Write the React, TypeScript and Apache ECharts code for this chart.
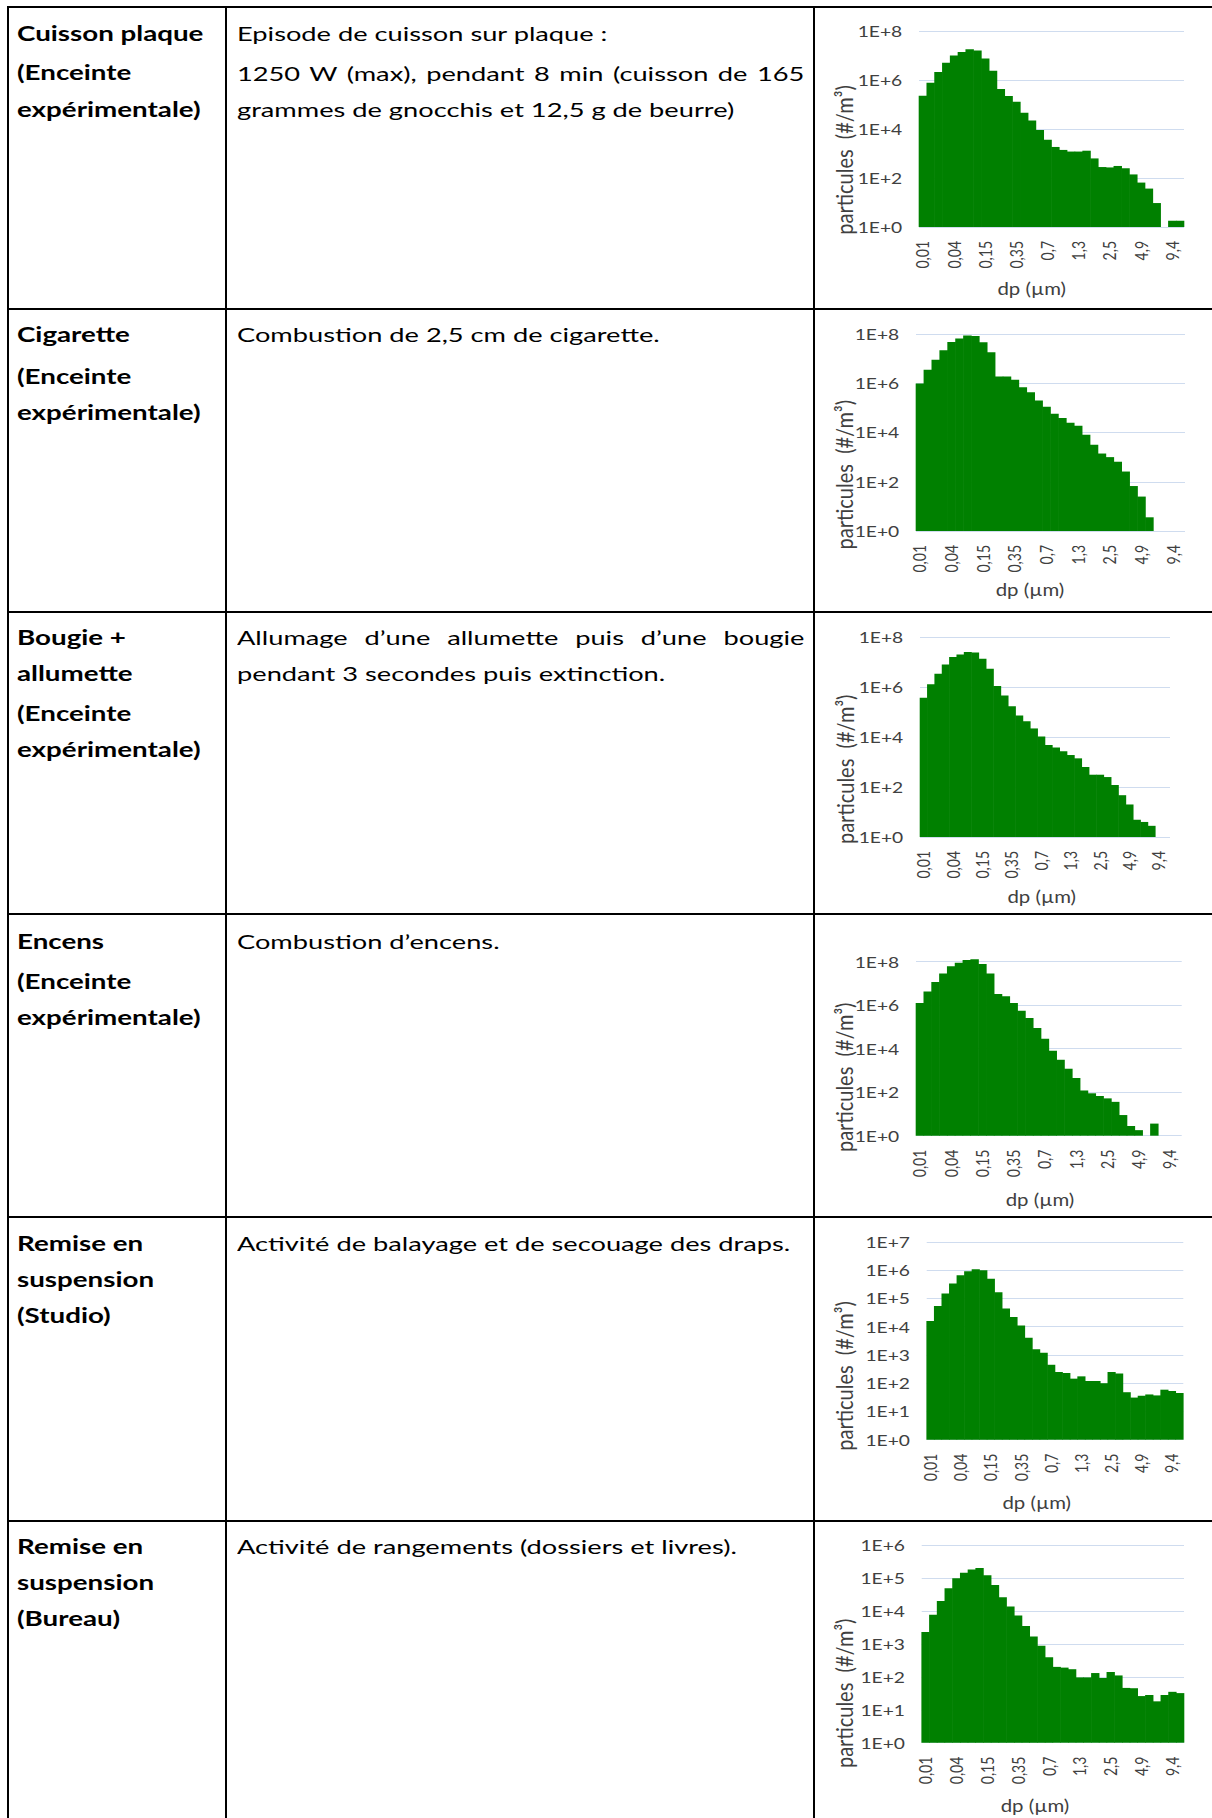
import React, { useEffect, useRef, useMemo } from 'react';
import * as echarts from 'echarts';

// ---------- data ----------
const dpCategories = ['0,01', '0,014', '0,02', '0,028', '0,04', '0,056', '0,075', '0,1', '0,15', '0,2', '0,25', '0,3', '0,35', '0,4', '0,5', '0,6', '0,7', '0,8', '0,9', '1,1', '1,3', '1,6', '1,8', '2,1', '2,5', '2,9', '3,5', '4,1', '4,9', '5,7', '6,8', '8', '9,4', '11'];

const cuissonPlaque = [2.3e5, 7.8e5, 2.1e6, 5.1e6, 1.0e7, 1.4e7, 1.8e7, 1.6e7, 7.6e6, 2.4e6, 4.3e5, 2.2e5, 1.3e5, 4.6e4, 2.2e4, 9.1e3, 3.6e3, 1.85e3, 1.4e3, 1.2e3, 1.2e3, 1.3e3, 630, 280, 270, 310, 250, 140, 65, 37, 9.5, null, 1.8, 1.8];
const cigarette = [9.7e5, 3.5e6, 9.1e6, 2.2e7, 4.7e7, 6.5e7, 8.6e7, 8.3e7, 4.6e7, 1.8e7, 1.9e6, 1.9e6, 1.4e6, 6.9e5, 4.3e5, 2.0e5, 1.1e5, 5.8e4, 3.9e4, 2.5e4, 1.9e4, 8.1e3, 3.2e3, 1.4e3, 1.0e3, 650, 260, 67, 25, 3.6, null, null, null, null];
const bougieAllumette = [3.7e5, 1.3e6, 3.4e6, 8.0e6, 1.6e7, 2.0e7, 2.5e7, 2.4e7, 1.35e7, 5.4e6, 1.1e6, 4.6e5, 1.7e5, 7.2e4, 4.3e4, 2.2e4, 1.05e4, 4.8e3, 3.8e3, 2.7e3, 1.9e3, 1.4e3, 630, 310, 310, 250, 120, 47, 20, 4.9, 4.0, 2.8, null, null];
const encens = [1.26e6, 4.3e6, 1.17e7, 2.9e7, 6.1e7, 8.9e7, 1.2e8, 1.3e8, 7.8e7, 2.9e7, 3.3e6, 2.6e6, 1.26e6, 5.6e5, 2.6e5, 8.9e4, 2.9e4, 8.1e3, 3.1e3, 1.2e3, 450, 120, 89, 67, 52, 36, 8.9, 2.8, 1.8, null, 3.6, null, null, null];
const remiseStudio = [1.6e4, 5.4e4, 1.5e5, 3.4e5, 6.6e5, 9.2e5, 1.08e6, 1.0e6, 5.0e5, 1.65e5, 4.4e4, 2.2e4, 1.1e4, 4.1e3, 1.6e3, 1.2e3, 450, 250, 230, 145, 175, 120, 120, 100, 250, 220, 48, 31, 36, 40, 37, 59, 53, 45];
const remiseBureau = [2.3e3, 7.7e3, 2.0e4, 4.9e4, 9.8e4, 1.45e5, 1.8e5, 2.0e5, 1.2e5, 6.1e4, 2.6e4, 1.35e4, 7.2e3, 3.5e3, 1.66e3, 880, 390, 200, 190, 170, 96, 96, 130, 92, 140, 110, 46, 45, 26, 28, 18, 28, 35, 32];

const yAxisMax = [1e8, 1e8, 1e8, 1e8, 1e7, 1e6];
const yAxisLogBase = [100, 100, 100, 100, 10, 10];
const yTitle = 'particules  (#/m³)';
const xTitle = 'dp (µm)';

const rowLabels = [
  ['Cuisson plaque', '(Enceinte', 'expérimentale)'],
  ['Cigarette', '(Enceinte', 'expérimentale)'],
  ['Bougie +', 'allumette', '(Enceinte', 'expérimentale)'],
  ['Encens', '(Enceinte', 'expérimentale)'],
  ['Remise en', 'suspension', '(Studio)'],
  ['Remise en', 'suspension', '(Bureau)'],
];
const rowDescriptions = [
  ['Episode de cuisson sur plaque :', '1250 W (max), pendant 8 min (cuisson de 165', 'grammes de gnocchis et 12,5 g de beurre)'],
  ['Combustion de 2,5 cm de cigarette.'],
  ['Allumage d’une allumette puis d’une bougie', 'pendant 3 secondes puis extinction.'],
  ['Combustion d’encens.'],
  ['Activité de balayage et de secouage des draps.'],
  ['Activité de rangements (dossiers et livres).'],
];
const seriesList = [cuissonPlaque, cigarette, bougieAllumette, encens, remiseStudio, remiseBureau];

// ---------- layout ----------
const PAGE_W = 1212;
const PAGE_H = 1818;
const ROW_LINES = [6, 308, 611, 913, 1216, 1520];
const COL_LINES = [7, 225, 813];
const LABEL_Y = [
  [32.5, 72, 109],
  [334, 376, 412],
  [637, 673, 713, 749],
  [941, 981, 1017],
  [1243, 1279, 1315],
  [1546, 1582, 1618],
];
const DESC_Y = [
  [32.5, 73, 109],
  [334],
  [637, 673],
  [941],
  [1243],
  [1546],
];
const JUSTIFIED = [[false, true, false], [false], [true, false], [false], [false], [false]];
const COL1_X = 17;
const COL2_X = 236.6;
const JUSTIFY_W = 567.4;
const TEXT_FONT = 20;

const KC = 1.2; // horizontal stretch of the charts
const CHART_X = 815;
const CHART_W = (PAGE_W - CHART_X) / KC;
const CHART_TOPS = [8, 310, 613, 915, 1218, 1522];
const CHART_HS = [300, 301, 300, 301, 302, 296];
// full-resolution plot rectangles [left, right, top, bottom]
const PLOTS = [
  [919, 1184, 31, 227],
  [916, 1185, 334, 531],
  [920, 1170, 637, 837],
  [916, 1181.7, 961.7, 1135.7],
  [926.7, 1183.3, 1242, 1439.7],
  [921.7, 1184, 1545, 1742.7],
];
const YTITLE_POS = [[843.5, 160], [843.5, 474.7], [845, 769.3], [843.5, 1077.3], [843.5, 1376], [843.5, 1693.3]];
const XTITLE_POS = [[1031.7, 288.5], [1030, 589], [1041.7, 896], [1040, 1199], [1036.7, 1502], [1035, 1805]];

const AXIS_TEXT = '#404040';
const GRID_COLOR = '#cfdcef';
const BAR_COLOR = '#008000';

function buildOption(i: number) {
  const [l, r, t, b] = PLOTS[i];
  const top = CHART_TOPS[i];
  const [ytx, yty] = YTITLE_POS[i];
  const [xtx, xty] = XTITLE_POS[i];
  return {
    animation: false,
    grid: {
      left: (l - CHART_X) / KC,
      width: (r - l) / KC,
      top: t - top,
      height: b - t,
      containLabel: false,
      outerBoundsMode: 'none',
    },
    xAxis: {
      type: 'category',
      data: dpCategories,
      axisLine: { show: false },
      axisTick: { show: false },
      splitLine: { show: false },
      axisLabel: {
        interval: 3,
        rotate: 90,
        fontSize: 14,
        fontFamily: 'Lato',
        color: AXIS_TEXT,
        margin: 14,
      },
    },
    yAxis: {
      type: 'log',
      logBase: yAxisLogBase[i],
      min: 1,
      max: yAxisMax[i],
      axisLine: { show: false },
      axisTick: { show: false },
      minorTick: { show: false },
      minorSplitLine: { show: false },
      splitLine: { show: true, lineStyle: { color: GRID_COLOR, width: 1 } },
      axisLabel: {
        formatter: (v: number) => '1E+' + Math.round(Math.log10(v)),
        fontSize: 16,
        fontFamily: 'Lato',
        color: AXIS_TEXT,
        margin: 14,
      },
    },
    series: [
      {
        type: 'bar',
        data: seriesList[i],
        barWidth: '108%',
        barGap: '-100%',
        clip: false,
        itemStyle: { color: BAR_COLOR },
      },
    ],
    graphic: [
      {
        type: 'text',
        x: (ytx - CHART_X) / KC,
        y: yty - top,
        rotation: Math.PI / 2,
        style: {
          text: yTitle,
          fontSize: 20,
          fontFamily: 'Lato',
          fill: AXIS_TEXT,
          align: 'center',
          verticalAlign: 'middle',
        },
      },
      {
        type: 'text',
        x: (xtx - CHART_X) / KC,
        y: xty - top,
        style: {
          text: xTitle,
          fontSize: 17,
          fontFamily: 'Lato',
          fill: AXIS_TEXT,
          align: 'center',
          verticalAlign: 'middle',
        },
      },
    ],
  };
}

function SizeChart({ index }: { index: number }) {
  const ref = useRef<HTMLDivElement>(null);
  useEffect(() => {
    if (!ref.current) return;
    const chart = echarts.init(ref.current, null, { renderer: 'svg' });
    chart.setOption(buildOption(index) as any);
    return () => chart.dispose();
  }, [index]);
  return (
    <div
      ref={ref}
      style={{
        position: 'absolute',
        left: CHART_X,
        top: CHART_TOPS[index],
        width: CHART_W,
        height: CHART_HS[index],
        transform: `scaleX(${KC})`,
        transformOrigin: '0 0',
      }}
    />
  );
}

function measure(text: string, font: string): number {
  const c = document.createElement('canvas').getContext('2d');
  if (!c) return 0;
  c.font = font;
  return c.measureText(text).width;
}

export default function App() {
  const scales = useMemo(() => {
    const wr = measure('Episode de cuisson sur plaque :', `${TEXT_FONT}px Lato`);
    const wb1 = measure('expérimentale)', `bold ${TEXT_FONT}px Lato`);
    const wb2 = measure('Cuisson plaque', `bold ${TEXT_FONT}px Lato`);
    return {
      regular: wr > 0 ? 371 / wr : 1.3,
      bold: wb1 + wb2 > 0 ? (187 + 183) / (wb1 + wb2) : 1.3,
    };
  }, []);

  const lineStyle = (x: number, yc: number, k: number, bold: boolean): React.CSSProperties => ({
    position: 'absolute',
    left: x,
    top: yc - 15,
    height: 30,
    lineHeight: '30px',
    fontSize: TEXT_FONT,
    fontFamily: 'Lato',
    fontWeight: bold ? 700 : 400,
    color: '#000',
    whiteSpace: 'nowrap',
    transform: `scaleX(${k})`,
    transformOrigin: '0 50%',
  });

  return (
    <div
      style={{
        position: 'absolute',
        left: 0,
        top: 0,
        width: PAGE_W,
        height: PAGE_H,
        overflow: 'hidden',
        background: '#fff',
      }}
    >
      {ROW_LINES.map((y, i) => (
        <div key={'h' + i} style={{ position: 'absolute', left: COL_LINES[0], top: y, width: PAGE_W - COL_LINES[0], height: 2, background: '#000' }} />
      ))}
      {COL_LINES.map((x, i) => (
        <div key={'v' + i} style={{ position: 'absolute', left: x, top: ROW_LINES[0], width: 2, height: PAGE_H - ROW_LINES[0], background: '#000' }} />
      ))}
      {rowLabels.map((lines, r) =>
        lines.map((t, j) => (
          <div key={`l${r}-${j}`} style={lineStyle(COL1_X, LABEL_Y[r][j], scales.bold, true)}>
            {t}
          </div>
        ))
      )}
      {rowDescriptions.map((lines, r) =>
        lines.map((t, j) => {
          const st = lineStyle(COL2_X, DESC_Y[r][j], scales.regular, false);
          if (JUSTIFIED[r][j]) {
            st.width = JUSTIFY_W / scales.regular;
            st.textAlign = 'justify';
            (st as any).textAlignLast = 'justify';
            st.whiteSpace = 'normal';
          }
          return (
            <div key={`d${r}-${j}`} style={st}>
              {t}
            </div>
          );
        })
      )}
      {seriesList.map((_, i) => (
        <SizeChart key={i} index={i} />
      ))}
    </div>
  );
}
